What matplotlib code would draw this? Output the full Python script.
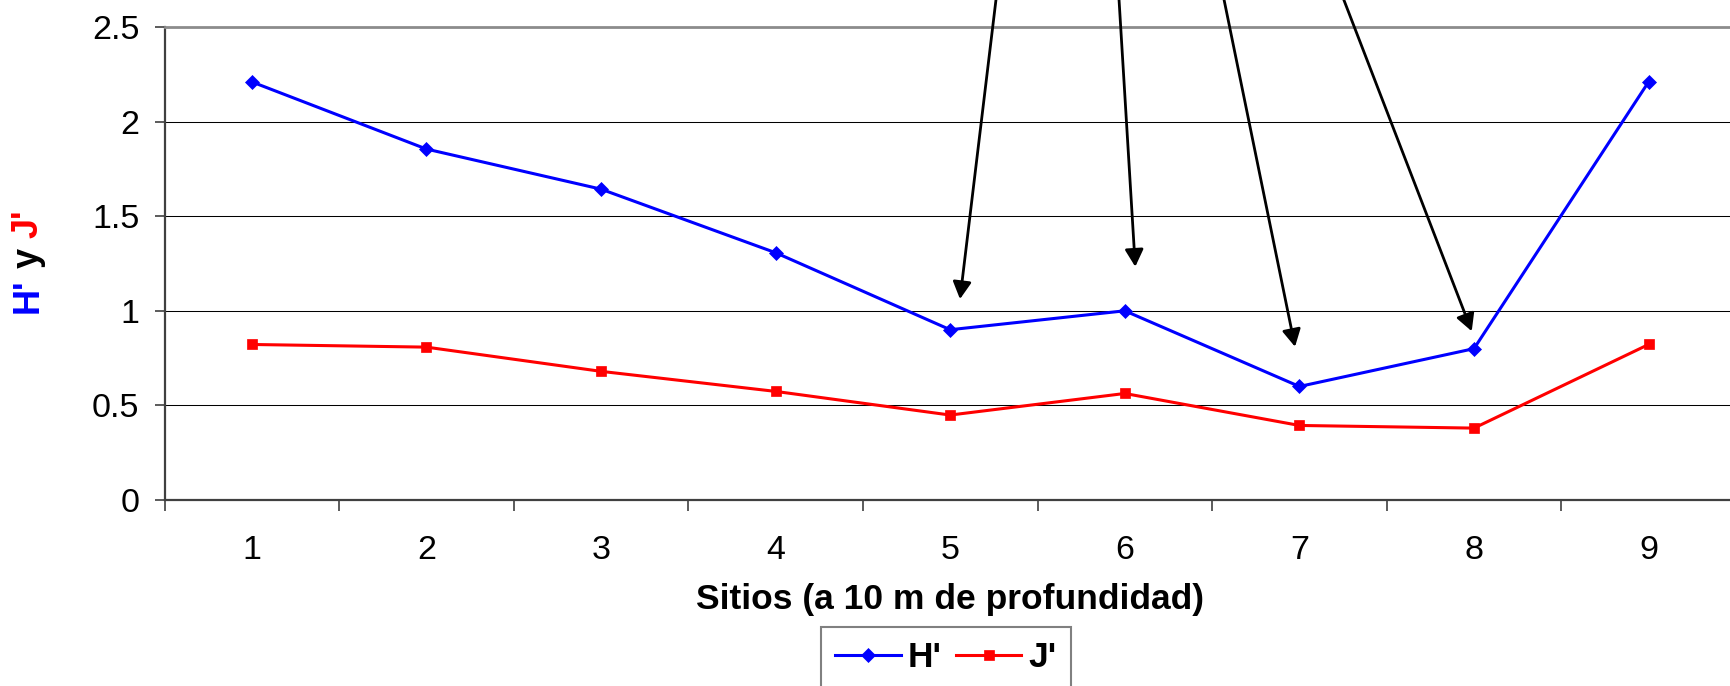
import numpy as np
import matplotlib
matplotlib.use("Agg")
import matplotlib.pyplot as plt

# data
sitios = [1, 2, 3, 4, 5, 6, 7, 8, 9]
h_vals = [2.21, 1.855, 1.643, 1.307, 0.90, 1.0, 0.60, 0.80, 2.21]
j_vals = [0.822, 0.808, 0.68, 0.574, 0.449, 0.563, 0.394, 0.38, 0.822]
y_ticks = [0, 0.5, 1, 1.5, 2, 2.5]
y_tick_labels = ["0", "0.5", "1", "1.5", "2", "2.5"]

# arrows: (start x, start y) -> (tip x, tip y), data coords
arrow_starts = [(5.276, 2.75), (5.960, 2.75), (6.545, 2.75), (7.210, 2.75)]
arrow_tips = [(5.056, 1.062), (6.060, 1.233), (6.975, 0.810), (7.987, 0.892)]

plt.rcParams["font.family"] = ["Liberation Sans", "DejaVu Sans"]

W, H = 1730, 686
fig = plt.figure(figsize=(W / 100, H / 100), dpi=100)
# plot area runs past the right edge, like the cropped original
ax = fig.add_axes([164.5 / W, 186 / H, 1571.4 / W, 473 / H])

ax.plot(sitios, h_vals, color="#0000ff", linewidth=2.2, marker="D",
        markersize=6.8, markeredgewidth=0.5, label="H'", zorder=3)
ax.plot(sitios, j_vals, color="#ff0000", linewidth=2.2, marker="s",
        markersize=7.3, markeredgewidth=0.5, label="J'", zorder=3)

ax.set_xlim(0.5, 9.5)
ax.set_ylim(0, 2.5)

# x axis: labels at centres, tick marks at category boundaries
ax.set_xticks(sitios, [str(s) for s in sitios])
ax.set_xticks(np.arange(0.5, 10, 1), minor=True)
ax.tick_params(axis="x", which="major", length=0, pad=25, labelsize=24.5)
ax.tick_params(axis="x", which="minor", length=8, width=1.2, color="#404040")

ax.set_yticks(y_ticks, y_tick_labels)
ax.tick_params(axis="y", length=7, width=1.2, color="#404040", pad=11,
               labelsize=24.5)

ax.yaxis.grid(True, color="black", linewidth=0.75)
ax.set_axisbelow(True)

ax.spines["top"].set_color("#8c8c8c")
ax.spines["top"].set_linewidth(2)
ax.spines["right"].set_visible(False)
for s in ["left", "bottom"]:
    ax.spines[s].set_color("#404040")
    ax.spines[s].set_linewidth(1.6)

ax.set_xlabel("Sitios (a 10 m de profundidad)", fontsize=25.5,
              fontweight="bold")
ax.xaxis.set_label_coords(0.5, -(583 - 500) / 473)
ax.xaxis.label.set_va("top")

for (x0, y0), (x1, y1) in zip(arrow_starts, arrow_tips):
    ax.annotate("", xy=(x1, y1), xytext=(x0, y0),
                arrowprops=dict(arrowstyle="-|>,head_length=0.52,head_width=0.28",
                                color="black", lw=2.0, shrinkA=0, shrinkB=0,
                                mutation_scale=20),
                annotation_clip=False)

leg = fig.legend(loc="upper center", bbox_to_anchor=(946 / W, (H - 627.3) / H),
                 ncol=2, prop={"size": 25.5, "weight": "bold"},
                 handlelength=1.85, handletextpad=0.2, columnspacing=0.4,
                 borderpad=0.4, borderaxespad=0, fancybox=False,
                 framealpha=1, edgecolor="#808080")
leg.get_frame().set_linewidth(1.5)

# y label in three colours: H' (blue) y (black) J' (red)
fig.canvas.draw()
r = fig.canvas.get_renderer()
lab_kw = dict(fontsize=26, fontweight="bold", rotation=90)


def text_len(s):
    t = fig.text(0, 0, s, **lab_kw)
    n = t.get_window_extent(r).height
    t.remove()
    return n


full = text_len("H' y J'")
parts = [("H'", "#0000ff", 0),
         ("y", "black", text_len("H' y") - text_len("y")),
         ("J'", "#ff0000", full - text_len("J'"))]
y_start = (H - 261) - full / 2
for s, c, off in parts:
    fig.text(37.5 / W, (y_start + off) / H, s, color=c,
             rotation_mode="anchor", ha="left", va="baseline", **lab_kw)

fig.savefig("out.png", dpi=100)
